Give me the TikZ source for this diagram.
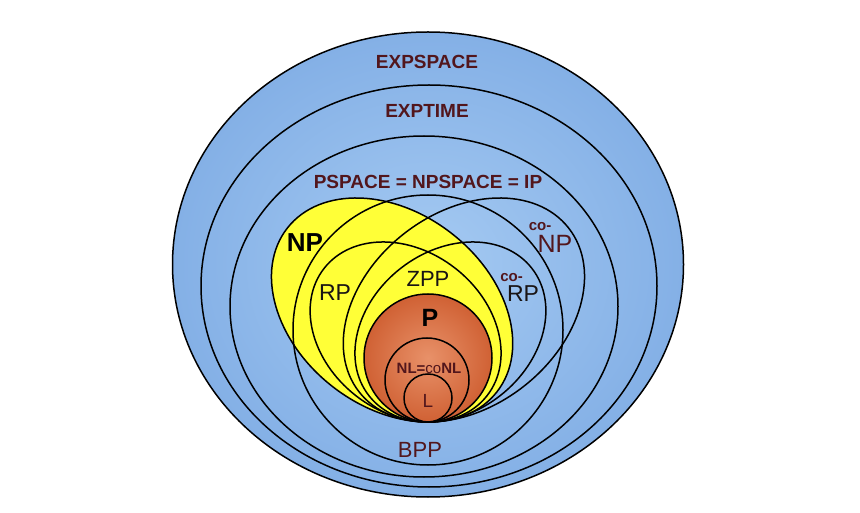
\documentclass[tikz,border=0pt]{standalone}
\usepackage{fontspec}
\setmainfont{Liberation Sans}
\definecolor{cblue}{RGB}{132,176,230}
\definecolor{cbluel}{RGB}{165,202,242}
\definecolor{cyel}{RGB}{255,255,55}
\definecolor{corange}{RGB}{208,97,52}
\definecolor{corangel}{RGB}{232,145,105}
\definecolor{cmaroon}{RGB}{82,22,28}
\definecolor{cdark}{RGB}{25,20,20}
\begin{document}
\begin{tikzpicture}[x=1pt,y=1pt,
  ring/.style={draw=black,line width=1.5pt},
  lab/.style={inner sep=0pt,text=cmaroon},
  darklab/.style={inner sep=0pt,text=cdark}]
\useasboundingbox (0,0) rectangle (860,512);
\fill[white] (0,0) rectangle (860,512);
% fills
\shade[inner color=cbluel,outer color=cblue] (428,247.5) ellipse [x radius=255.5pt, y radius=232.5pt];
\fill[cyel,rotate around={-38:(392.1,202)}] (392.1,202) ellipse [x radius=133pt, y radius=97pt];
\shade[inner color=corangel,outer color=corange] (428,154) circle [radius=64pt];
% outlines
\draw[ring] (428,247.5) ellipse [x radius=255.5pt, y radius=232.5pt];
\draw[ring] (429,226) ellipse [x radius=228pt, y radius=201pt];
\draw[ring] (424,205.5) ellipse [x radius=194pt, y radius=170.5pt];
\draw[ring] (428,182) circle [radius=135pt];
\draw[ring,rotate around={-38:(392.1,202)}] (392.1,202) ellipse [x radius=133pt, y radius=97pt];
\draw[ring,rotate around={38:(463.9,202)}] (463.9,202) ellipse [x radius=133pt, y radius=97pt];
\draw[ring,rotate around={-38:(405.6,180)}] (405.6,180) ellipse [x radius=103.4pt, y radius=80.8pt];
\draw[ring,rotate around={38:(450.4,180)}] (450.4,180) ellipse [x radius=103.4pt, y radius=80.8pt];
\draw[ring] (428,154) circle [radius=64pt];
\draw[ring] (427,132) circle [radius=42pt];
\draw[ring] (428,114) circle [radius=24pt];
% labels
\node[lab,font=\fontsize{19}{19}\selectfont\bfseries] (expspace) at (427,450) {EXPSPACE};
\node[lab,font=\fontsize{19}{19}\selectfont\bfseries] (exptime) at (427,401) {EXPTIME};
\node[lab,font=\fontsize{19}{19}\selectfont\bfseries] (pspace) at (428,330) {PSPACE = NPSPACE = IP};
\node[inner sep=0pt,text=black,font=\fontsize{26}{26}\selectfont\bfseries] (np) at (305,269) {NP};
\node[darklab,font=\fontsize{23}{23}\selectfont] (rp) at (335,219) {RP};
\node[darklab,font=\fontsize{22}{22}\selectfont] (zpp) at (428,233) {ZPP};
\node[inner sep=0pt,text=black,font=\fontsize{25}{25}\selectfont\bfseries] (p) at (430,194) {P};
\node[lab,font=\fontsize{15}{15}\selectfont] (nl) at (429,144) {\textbf{NL=}co\textbf{NL}};
\node[lab,font=\fontsize{19}{19}\selectfont] (l) at (428,111) {L};
\node[lab,font=\fontsize{22}{22}\selectfont] (bpp) at (420,62) {BPP};
\node[lab,font=\fontsize{15}{15}\selectfont\bfseries] (conpco) at (540,285.5) {co-};
\node[lab,font=\fontsize{25}{25}\selectfont] (conp) at (555,268) {NP};
\node[lab,font=\fontsize{15}{15}\selectfont\bfseries] (corpco) at (511.5,234.5) {co-};
\node[darklab,font=\fontsize{23}{23}\selectfont] (corp) at (523,218) {RP};
\end{tikzpicture}
\end{document}
